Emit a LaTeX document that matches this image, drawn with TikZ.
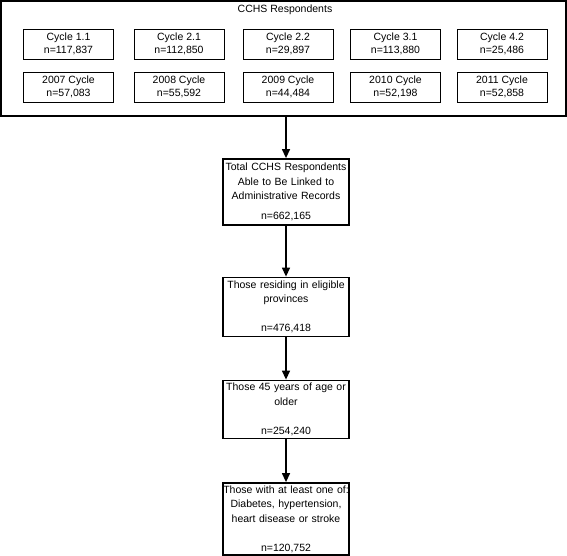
\documentclass[tikz,border=0pt]{standalone}
\usepackage{fontspec}
\setmainfont{Liberation Sans}
\usetikzlibrary{arrows.meta}
\begin{document}
\begin{tikzpicture}[x=1pt,y=-1pt,
  cyclebox/.style={draw=black, line width=0.9pt, minimum width=90pt, minimum height=30pt,
    inner sep=0pt, align=center, font=\fontsize{10.5}{13}\selectfont},
  mainbox/.style={draw=black, line width=1.8pt, minimum width=126pt, inner sep=0pt,
    text width=126pt, align=center, font=\fontsize{10.5}{14.5}\selectfont},
  flowarrow/.style={draw=black, line width=1.3pt, -{Triangle[width=8pt,length=9pt]}}]
\useasboundingbox (0,0) rectangle (567,556);
% outer frame
\node[draw=black, line width=1.5pt, minimum width=565pt, minimum height=115pt, inner sep=0pt]
  (cchs) at (283.5,58.5) {};
\node[font=\fontsize{10.5}{12.5}\selectfont, inner sep=0pt] (title) at (285,9.5) {CCHS Respondents};
% cycle boxes row 1
\node[cyclebox] (c11) at (68.5,44.3) {Cycle 1.1\\n=117,837};
\node[cyclebox] (c21) at (179,44.3) {Cycle 2.1\\n=112,850};
\node[cyclebox] (c22) at (288,44.3) {Cycle 2.2\\n=29,897};
\node[cyclebox] (c31) at (395.5,44.3) {Cycle 3.1\\n=113,880};
\node[cyclebox] (c42) at (502,44.3) {Cycle 4.2\\n=25,486};
% cycle boxes row 2
\node[cyclebox] (y07) at (68.5,87.2) {2007 Cycle\\n=57,083};
\node[cyclebox] (y08) at (179,87.2) {2008 Cycle\\n=55,592};
\node[cyclebox] (y09) at (288,87.2) {2009 Cycle\\n=44,484};
\node[cyclebox] (y10) at (395.5,87.2) {2010 Cycle\\n=52,198};
\node[cyclebox] (y11) at (502,87.2) {2011 Cycle\\n=52,858};
% main flow boxes
\node[mainbox, minimum height=66pt] (b1) at (286,192)
  {Total CCHS Respondents\\Able to Be Linked to\\Administrative Records\\[5.5pt]n=662,165};
\node[mainbox, minimum height=59pt] (b2) at (286,307)
  {Those residing in eligible\\provinces\\[14.5pt]n=476,418};
\node[mainbox, minimum height=58pt] (b3) at (286,409.5)
  {Those 45 years of age or\\older\\[14.5pt]n=254,240};
\node[mainbox, minimum height=72pt] (b4) at (286,519)
  {Those with at least one of:\\Diabetes, hypertension,\\heart disease or stroke\\[14.5pt]n=120,752};
% arrows
\draw[flowarrow] (b1.north |- cchs.south) -- (b1.north);
\draw[flowarrow] (b1.south) -- (b2.north);
\draw[flowarrow] (b2.south) -- (b3.north);
\draw[flowarrow] (b3.south) -- (b4.north);
\end{tikzpicture}
\end{document}
